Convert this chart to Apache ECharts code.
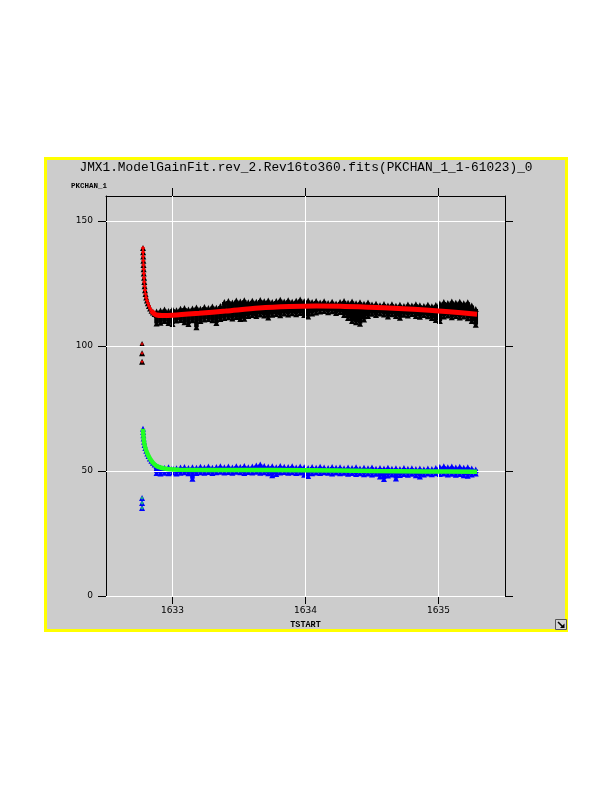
<!DOCTYPE html>
<html><head><meta charset="utf-8">
<script src="https://cdn.jsdelivr.net/npm/echarts@6/dist/echarts.min.js"></script>
<style>html,body{margin:0;padding:0;background:#fff}#c{width:612px;height:792px}</style>
</head><body><div id="c"></div>
<script>
const xTicks = [1633, 1634, 1635];
const yTicks = [0, 50, 100, 150];

// TSTART positions of the dense part of both data sets
const bandX = [1632.88,1632.91,1632.94,1632.97,
1633.00,1633.03,1633.06,1633.09,1633.12,1633.15,1633.18,1633.21,1633.24,1633.27,1633.30,1633.33,1633.36,1633.39,1633.42,1633.45,1633.48,1633.51,1633.54,1633.57,1633.60,1633.63,1633.66,1633.69,1633.72,1633.75,1633.78,1633.81,1633.84,1633.87,1633.90,1633.93,1633.96,1633.99,
1634.02,1634.05,1634.08,1634.11,1634.14,1634.17,1634.20,1634.23,1634.26,1634.29,1634.32,1634.35,1634.38,1634.41,1634.44,1634.47,1634.50,1634.53,1634.56,1634.59,1634.62,1634.65,1634.68,1634.71,1634.74,1634.77,1634.80,1634.83,1634.86,1634.89,1634.92,1634.95,1634.98,
1635.01,1635.04,1635.07,1635.10,1635.13,1635.16,1635.19,1635.22,1635.25,1635.28];

// channel 1 data: upper and lower envelope of the scatter at each TSTART
const data1Hi = [113.8,114.2,114.6,114.0,114.8,114.3,114.9,115.2,114.6,115.0,115.4,114.9,115.6,115.2,115.8,115.3,116.0,
117.6,118.0,117.4,118.2,117.8,118.3,117.5,118.1,117.7,118.4,117.9,118.2,117.6,118.0,118.5,117.8,118.3,117.7,118.1,118.6,117.9,118.2,117.6,118.0,
117.4,117.9,117.2,117.7,117.0,117.6,118.0,117.3,117.8,117.1,117.5,116.9,117.4,
116.6,116.9,116.3,116.8,116.2,116.7,116.1,116.5,116.0,116.6,116.2,116.7,116.3,116.0,116.5,115.9,116.4,
117.0,117.6,117.2,117.8,117.3,117.7,117.1,117.5,116.2,114.8];
const data1Lo = [109.0,109.3,110.0,109.2,108.8,110.2,110.4,109.5,108.8,110.3,107.5,110.0,110.6,110.8,110.3,109.2,110.8,
111.2,111.5,111.0,111.6,110.8,110.9,112.0,112.4,112.0,112.6,112.2,111.4,112.5,112.8,112.3,113.0,112.6,113.1,112.7,113.2,112.4,111.8,113.0,113.4,
113.8,114.0,113.5,113.9,113.2,113.6,112.4,111.2,110.0,109.5,108.9,110.6,112.0,
112.9,112.4,113.0,112.6,111.8,112.7,112.0,111.3,112.5,112.2,112.8,112.0,111.7,112.4,111.9,111.2,110.4,
110.0,111.8,112.2,111.5,112.0,111.4,111.8,111.1,110.0,108.5];

// channel 2 data envelopes
const data2Hi = [51.0,51.3,51.2,51.5,51.3,51.1,51.4,51.6,51.2,51.5,
51.3,51.7,51.4,51.8,51.3,51.6,51.9,51.5,51.8,51.4,
51.9,51.6,52.0,51.5,51.8,52.2,52.6,52.0,51.7,51.9,
51.5,52.0,51.7,51.6,51.9,51.4,51.8,51.5,51.2,51.6,
51.3,51.7,51.4,51.2,51.6,51.3,51.5,51.1,51.4,51.2,
51.5,51.0,51.3,51.1,51.4,50.9,51.2,51.0,51.3,50.9,
51.1,50.8,51.2,50.9,51.1,50.8,51.0,50.7,51.0,50.8,
51.2,51.6,51.9,51.5,51.8,51.4,51.7,51.3,51.5,51.0,50.6];
const data2Lo = [49.2,49.0,49.3,49.1,49.4,49.0,49.3,49.5,49.1,46.9,
49.2,49.5,49.3,49.6,49.2,49.5,49.7,49.4,49.6,49.3,
49.7,49.5,49.2,49.6,49.4,49.7,49.3,49.5,49.1,48.3,
48.8,49.4,49.6,49.3,49.5,49.2,49.4,48.5,48.0,49.1,
49.4,49.2,49.5,49.3,49.0,49.4,49.1,49.3,48.9,49.2,
48.8,49.1,48.7,49.0,48.6,48.9,47.8,46.8,48.2,48.6,
47.0,48.4,48.8,48.5,48.9,48.3,47.8,48.6,49.0,48.7,
49.1,48.8,49.0,48.6,48.9,48.5,48.8,48.3,48.1,48.6,49.0];

// start-up spike and early outliers, channel 1
const data1Spike = [[1632.778,139.2],[1632.779,137.5],[1632.780,135.8],[1632.781,134.1],[1632.782,132.4],[1632.783,130.7],[1632.784,129.0],[1632.786,127.3],[1632.788,125.6],[1632.790,123.9],[1632.793,122.3],[1632.797,120.8],[1632.802,119.4],[1632.808,118.2],[1632.815,117.1],[1632.823,116.0],[1632.832,115.0],[1632.842,114.1],[1632.853,113.4],[1632.866,112.8],[1632.880,112.4]];
const data1Outliers = [[1632.771,100.8],[1632.771,97.1],[1632.771,93.7]];
const fit1Spike = [[1632.778,139.2],[1632.779,137.5],[1632.780,135.8],[1632.781,134.1],[1632.782,132.4],[1632.783,130.7],[1632.784,129.0],[1632.786,127.3],[1632.788,125.6],[1632.790,123.9],[1632.793,122.3],[1632.797,120.8],[1632.802,119.4],[1632.808,118.2],[1632.815,117.1],[1632.823,116.0],[1632.832,115.0],[1632.842,114.1]];
const fit1Main = [[1632.842,114.1],[1632.853,113.4],[1632.866,112.8],[1632.88,112.4],[1632.92,112.2],[1633.0,112.3],[1633.2,113.1],[1633.4,114.0],[1633.65,115.2],[1633.88,115.8],[1634.08,116.0],[1634.26,115.9],[1634.48,115.5],[1634.7,115.0],[1634.93,114.3],[1635.08,113.7],[1635.29,112.7]];
const fit1Outliers = [[1632.771,100.8],[1632.771,97.1],[1632.771,93.7]];

// start-up spike and early outliers, channel 2
const data2Spike = [[1632.778,66.9],[1632.779,65.6],[1632.781,64.3],[1632.783,63.0],[1632.786,61.7],[1632.790,60.4],[1632.796,59.2],[1632.803,58.1],[1632.811,57.0],[1632.820,56.0],[1632.830,55.0],[1632.841,54.1],[1632.853,53.3],[1632.866,52.6],[1632.880,52.0],[1632.896,51.5]];
const data2Outliers = [[1632.771,39.2],[1632.771,37.2],[1632.771,35.2]];
const fit2 = [[1632.778,66.9],[1632.781,64.3],[1632.786,61.7],[1632.796,59.2],[1632.811,57.0],[1632.830,55.0],[1632.853,53.3],[1632.880,52.0],[1632.915,51.3],[1632.96,50.8],[1633.05,50.5],[1633.5,50.4],[1634.0,50.3],[1634.5,50.0],[1634.9,49.8],[1635.29,49.7]];
const fit2Outliers = [[1632.771,39.2],[1632.771,37.2],[1632.771,35.2]];

const PLUS = 'path://M2,0H4V2H6V4H4V6H2V4H0V2H2Z';
const labelFont = 'DejaVu Sans';

function bandSeries(lo, hi, color) {
  return {
    type: 'custom', z: 3, silent: true,
    data: bandX.map((x, i) => [x, lo[i], hi[i]]),
    encode: { x: 0, y: [1, 2] },
    renderItem: function (params, api) {
      const a = api.coord([api.value(0), api.value(2)]);
      const b = api.coord([api.value(0), api.value(1)]);
      return { type: 'rect', shape: { x: a[0] - 2.3, y: a[1], width: 4.6, height: b[1] - a[1] }, style: { fill: color } };
    }
  };
}
function triSeries(pts, color) {
  return { type: 'scatter', z: 4, silent: true, data: pts, symbol: 'triangle', symbolSize: [6, 6], itemStyle: { color: color, opacity: 1 } };
}

const chart = echarts.init(document.getElementById('c'), null, { renderer: 'canvas' });
chart.setOption({
  backgroundColor: '#ffffff',
  animation: false,
  title: {
    text: 'JMX1.ModelGainFit.rev_2.Rev16to360.fits(PKCHAN_1_1-61023)_0',
    left: 'center', top: 161, padding: 0,
    textStyle: { fontFamily: 'Liberation Mono', fontSize: 12.8, fontWeight: 'normal', color: '#000' }
  },
  graphic: [
    { type: 'rect', z: -10, silent: true, shape: { x: 45.5, y: 158.5, width: 521, height: 472 }, style: { fill: '#cccccc', stroke: '#ffff00', lineWidth: 3 } },
    { type: 'group', left: 555, top: 619, silent: true, children: [
      { type: 'rect', shape: { x: 0, y: 0, width: 11, height: 10 }, style: { fill: '#d4d4d4', stroke: '#555555', lineWidth: 1 } },
      { type: 'line', shape: { x1: 2.5, y1: 2.5, x2: 7.5, y2: 7.5 }, style: { stroke: '#000', lineWidth: 1.6 } },
      { type: 'polygon', shape: { points: [[9, 8.5], [9, 4], [4.5, 8.5]] }, style: { fill: '#000' } }
    ] }
  ],
  grid: { left: 106, right: 107, top: 196, bottom: 196, containLabel: false, outerBoundsMode: 'none' },
  xAxis: [
    {
      type: 'value', position: 'bottom', min: 1632.5, max: 1635.5,
      axisLine: { show: false, onZero: false },
      splitLine: { show: false },
      axisTick: { show: true, inside: false, length: 8, customValues: xTicks, lineStyle: { color: '#000', width: 1 } },
      axisLabel: { show: true, customValues: xTicks, formatter: v => String(v), margin: 10, fontSize: 9, color: '#000', fontFamily: labelFont },
      name: 'TSTART', nameLocation: 'middle', nameGap: 21,
      nameTextStyle: { fontFamily: 'Liberation Mono', fontSize: 8.5, fontWeight: 'bold', color: '#000' }
    },
    {
      type: 'value', position: 'top', min: 1632.5, max: 1635.5,
      axisLine: { show: true, onZero: false, lineStyle: { color: '#000', width: 1 } },
      splitLine: { show: false },
      axisTick: { show: true, inside: false, length: 8, customValues: xTicks, lineStyle: { color: '#000', width: 1 } },
      axisLabel: { show: false }
    }
  ],
  yAxis: [
    {
      type: 'value', position: 'left', min: 0, max: 160,
      axisLine: { show: true, onZero: false, lineStyle: { color: '#000', width: 1 } },
      splitLine: { show: false },
      axisTick: { show: true, inside: false, length: 8, customValues: yTicks, lineStyle: { color: '#000', width: 1 } },
      axisLabel: { show: true, customValues: yTicks, formatter: v => String(v), margin: 13, fontSize: 9, color: '#000', fontFamily: labelFont },
      name: 'PKCHAN_1', nameLocation: 'end', nameGap: 6,
      nameTextStyle: { fontFamily: 'Liberation Mono', fontSize: 7.5, fontWeight: 'bold', color: '#000', align: 'right', verticalAlign: 'bottom', padding: [0, -1, 0, 0] }
    },
    {
      type: 'value', position: 'right', min: 0, max: 160,
      axisLine: { show: true, onZero: false, lineStyle: { color: '#000', width: 1 } },
      splitLine: { show: false },
      axisTick: { show: true, inside: false, length: 8, customValues: yTicks, lineStyle: { color: '#000', width: 1 } },
      axisLabel: { show: false }
    }
  ],
  series: [
    {
      type: 'line', data: [], z: 1, silent: true,
      markLine: {
        silent: true, symbol: ['none', 'none'], label: { show: false }, animation: false,
        lineStyle: { color: '#ffffff', width: 1, type: 'solid' },
        emphasis: { disabled: true },
        data: [...xTicks.map(v => ({ xAxis: v })), ...yTicks.map(v => ({ yAxis: v }))]
      }
    },
    bandSeries(data1Lo, data1Hi, '#000000'),
    triSeries(bandX.map((x, i) => [x, data1Hi[i]]), '#000000'),
    triSeries(bandX.map((x, i) => [x, data1Lo[i]]), '#000000'),
    triSeries(data1Spike, '#000000'),
    triSeries(data1Outliers, '#000000'),
    { type: 'line', z: 6, silent: true, data: fit1Main, symbol: 'none', smooth: 0.3, lineStyle: { color: '#ff0000', width: 5 } },
    { type: 'line', z: 6, silent: true, data: fit1Spike, symbol: PLUS, symbolSize: 4, showSymbol: true, itemStyle: { color: '#ff0000', opacity: 1 }, lineStyle: { color: '#ff0000', width: 1.5 } },
    { type: 'scatter', z: 6, silent: true, data: fit1Outliers, symbol: PLUS, symbolSize: 3, itemStyle: { color: '#ff0000', opacity: 1 } },

    bandSeries(data2Lo, data2Hi, '#0000ff'),
    triSeries(bandX.map((x, i) => [x, data2Hi[i]]), '#0000ff'),
    triSeries(bandX.map((x, i) => [x, data2Lo[i]]), '#0000ff'),
    triSeries(data2Spike, '#0000ff'),
    triSeries(data2Outliers, '#0000ff'),
    { type: 'line', z: 6, silent: true, data: fit2, symbol: 'none', smooth: 0.3, lineStyle: { color: '#22ff22', width: 4.5 } },
    { type: 'scatter', z: 6, silent: true, data: fit2Outliers, symbol: PLUS, symbolSize: 3, itemStyle: { color: '#22dd66', opacity: 1 } }
  ]
});
</script>
</body></html>
